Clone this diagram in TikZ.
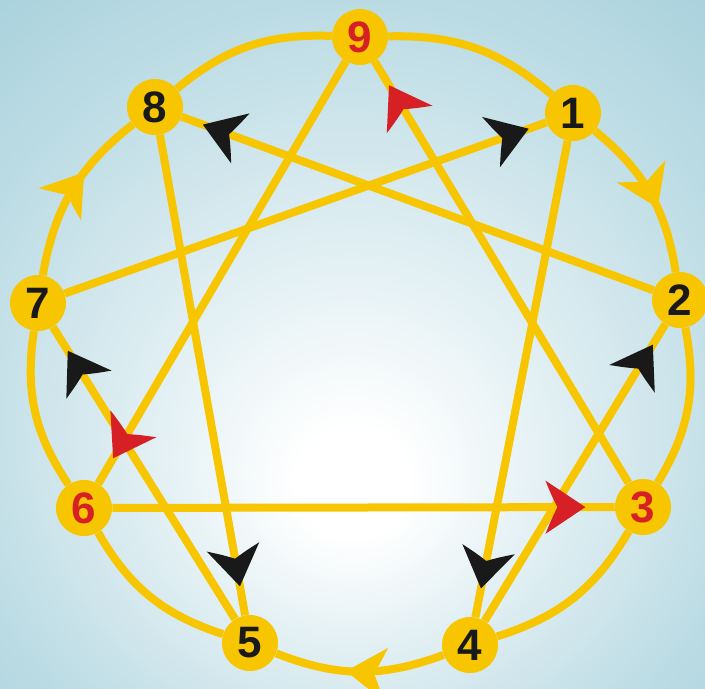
\documentclass[tikz,border=0pt]{standalone}
\usepackage{fontspec}
\setmainfont{Liberation Sans}
\usetikzlibrary{decorations.markings}
\definecolor{ennyellow}{RGB}{247,198,0}
\definecolor{ennred}{RGB}{214,32,38}
\definecolor{ennblack}{RGB}{25,25,25}
\definecolor{bgblue}{RGB}{160,205,217}
\pgfdeclarelayer{bg}
\pgfdeclarelayer{lines}
\pgfsetlayers{bg,lines,main}
\pgfdeclareradialshading{bgshade}{\pgfpoint{0bp}{-11bp}}{color(0bp)=(white); color(4bp)=(white); color(14bp)=(white!70!bgblue); color(28bp)=(white!32!bgblue); color(42bp)=(bgblue); color(50bp)=(bgblue)}
\tikzset{
  num/.style={circle, fill=ennyellow, minimum size=42pt, inner sep=0pt,
    font=\fontsize{33}{33}\selectfont\bfseries},
  yline/.style={draw=ennyellow, line width=6pt},
  tipmark/.style 2 args={postaction={decorate},
    decoration={markings, mark=at position #1 with {
      \fill[#2] (0pt,0pt) -- (-30pt,20pt) .. controls (-25pt,8pt) .. (-21pt,0pt)
        .. controls (-25pt,-8pt) .. (-30pt,-20pt) -- cycle;}}}
}
\begin{document}
\begin{tikzpicture}[x=0.75pt,y=-0.75pt]
\begin{pgfonlayer}{bg}
\shade[shading=bgshade] (0,0) rectangle (705,688);
\end{pgfonlayer}
\useasboundingbox (0,0) rectangle (705,688);
% points
\node[num, text=ennred]   (n9) at (360,37)  {9};
\node[num, text=ennblack] (n1) at (573,113) {1};
\node[num, text=ennblack] (n2) at (680,300) {2};
\node[num, text=ennred]   (n3) at (643,507) {3};
\node[num, text=ennblack] (n4) at (470,645) {4};
\node[num, text=ennblack] (n5) at (250,643) {5};
\node[num, text=ennred]   (n6) at (84,508)  {6};
\node[num, text=ennblack] (n7) at (38,303)  {7};
\node[num, text=ennblack] (n8) at (155,107) {8};
\begin{pgfonlayer}{lines}
% outer ring
\draw[yline] (n9) to[bend left=21] (n1);
\draw[yline, tipmark={0.6}{ennyellow}] (n1) to[bend left=21] (n2);
\draw[yline] (n2) to[bend left=21] (n3);
\draw[yline] (n3) to[bend left=21] (n4);
\draw[yline, tipmark={0.58}{ennyellow}] (n4) to[bend left=21] (n5);
\draw[yline] (n5) to[bend left=21] (n6);
\draw[yline] (n6) to[bend left=21] (n7);
\draw[yline, tipmark={0.62}{ennyellow}] (n7) to[bend left=21] (n8);
\draw[yline] (n8) to[bend left=21] (n9);
% hexad
\draw[yline, tipmark={-14pt}{ennblack}] (n7) -- (n1);
\draw[yline, tipmark={-22pt}{ennblack}] (n1) -- (n4);
\draw[yline, tipmark={-18pt}{ennblack}] (n4) -- (n2);
\draw[yline, tipmark={-17pt}{ennblack}] (n2) -- (n8);
\draw[yline, tipmark={-22pt}{ennblack}] (n8) -- (n5);
\draw[yline, tipmark={-21pt}{ennblack}] (n5) -- (n7);
% triangle
\draw[yline, tipmark={-22pt}{ennred}] (n9) -- (n6);
\draw[yline, tipmark={-22pt}{ennred}] (n6) -- (n3);
\draw[yline, tipmark={-21pt}{ennred}] (n3) -- (n9);
\end{pgfonlayer}
\end{tikzpicture}
\end{document}
